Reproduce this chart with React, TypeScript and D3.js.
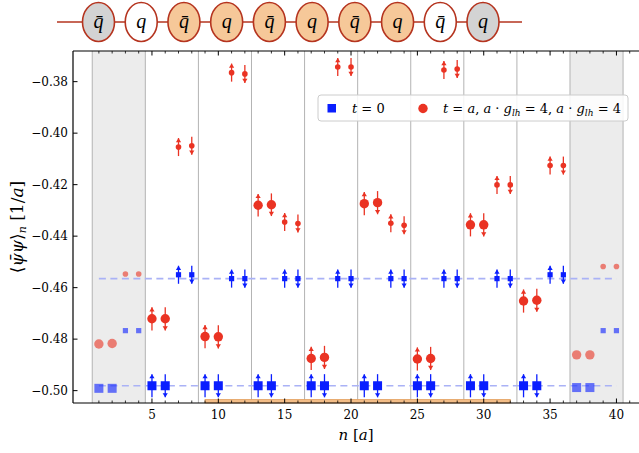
import React from 'react';
import * as d3 from 'd3';

const W = 639;
const H = 453;

// site index n
const sites = [1, 2, 3, 4, 5, 6, 7, 8, 9, 10, 11, 12, 13, 14, 15, 16, 17, 18, 19, 20,
  21, 22, 23, 24, 25, 26, 27, 28, 29, 30, 31, 32, 33, 34, 35, 36, 37, 38, 39, 40];

// <psibar psi>_n at t = 0
const blueT0 = [
  -0.4991, -0.4991, -0.4767, -0.4767,
  -0.4981, -0.4981, -0.4550, -0.4550,
  -0.4981, -0.4981, -0.4565, -0.4565,
  -0.4981, -0.4981, -0.4565, -0.4565,
  -0.4981, -0.4981, -0.4565, -0.4565,
  -0.4981, -0.4981, -0.4565, -0.4565,
  -0.4981, -0.4981, -0.4565, -0.4565,
  -0.4981, -0.4981, -0.4565, -0.4565,
  -0.4981, -0.4981, -0.4550, -0.4550,
  -0.4988, -0.4988, -0.4767, -0.4767,
];
const blueErr = [
  0, 0, 0, 0,
  0.0045, 0.0045, 0.0035, 0.0035,
  0.0045, 0.0045, 0.0035, 0.0035,
  0.0045, 0.0045, 0.0035, 0.0035,
  0.0045, 0.0045, 0.0035, 0.0035,
  0.0045, 0.0045, 0.0035, 0.0035,
  0.0045, 0.0045, 0.0035, 0.0035,
  0.0045, 0.0045, 0.0035, 0.0035,
  0.0045, 0.0045, 0.0035, 0.0035,
  0, 0, 0, 0,
];

// <psibar psi>_n at t = a
const redTa = [
  -0.4819, -0.4817, -0.4547, -0.4547,
  -0.4721, -0.4721, -0.4054, -0.4049,
  -0.4790, -0.4791, -0.3765, -0.3770,
  -0.4280, -0.4278, -0.4345, -0.4351,
  -0.4875, -0.4871, -0.3743, -0.3743,
  -0.4274, -0.4270, -0.4350, -0.4358,
  -0.4877, -0.4875, -0.3755, -0.3751,
  -0.4356, -0.4356, -0.4201, -0.4201,
  -0.4652, -0.4649, -0.4126, -0.4126,
  -0.4861, -0.4861, -0.4518, -0.4518,
];
const redErr = [
  0, 0, 0, 0,
  0.0045, 0.0045, 0.0035, 0.0035,
  0.0045, 0.0045, 0.0035, 0.0035,
  0.0044, 0.0044, 0.0035, 0.0035,
  0.0045, 0.0045, 0.0035, 0.0035,
  0.0045, 0.0045, 0.0035, 0.0035,
  0.0045, 0.0045, 0.0035, 0.0035,
  0.0045, 0.0045, 0.0035, 0.0035,
  0.0045, 0.0045, 0.0035, 0.0035,
  0, 0, 0, 0,
];

const xMajorTicks = [5, 10, 15, 20, 25, 30, 35, 40];
const xMinorTicks = [1, 2, 3, 4, 6, 7, 8, 9, 11, 12, 13, 14, 16, 17, 18, 19, 21, 22, 23, 24,
  26, 27, 28, 29, 31, 32, 33, 34, 36, 37, 38, 39, 41];
const yTicks = [-0.38, -0.40, -0.42, -0.44, -0.46, -0.48, -0.50];
const regionEdges = [0.5, 4.5, 8.5, 12.5, 16.5, 20.5, 24.5, 28.5, 32.5, 36.5, 40.5];
const shadedRegions = [[0.5, 4.5], [36.5, 40.5]];
const dashedLevels = [-0.4981, -0.4565];
const dashedSpan = [1, 40];
const orangeSpan = [9, 32];

const diagramLabels = ['q\u0304', 'q', 'q\u0304', 'q', 'q\u0304', 'q', 'q\u0304', 'q', 'q\u0304', 'q'];
const diagramKinds = ['gray', 'white', 'orange', 'orange', 'orange', 'orange', 'orange', 'orange', 'white', 'gray'];

const BLUE = '#0a1eff';
const RED = '#ea3323';
const FONT = '"DejaVu Serif", serif';

const M = { left: 73, right: 639, top: 51, bottom: 403 };

export default function App() {
  const x = d3.scaleLinear().domain([-0.95, 41.7]).range([M.left, M.right]);
  const y = d3.scaleLinear().domain([-0.5048, -0.3681]).range([M.bottom, M.top]);

  const diagX = d3.scalePoint<number>().domain(d3.range(diagramLabels.length)).range([98.5, 483]);
  const fillOf = (k: string) => (k === 'gray' ? '#d3d3d3' : k === 'orange' ? '#f6c899' : '#ffffff');

  const isLarge = (n: number) => (n - 1) % 4 < 2;
  const inGray = (n: number) => n <= 4 || n >= 37;

  const errBar = (n: number, v: number, e: number, color: string, key: string) => {
    if (!e) return null;
    const cx = x(n);
    const yTop = y(v + e);
    const yBot = y(v - e);
    const up = n % 2 === 1;
    const tri = up
      ? `M${cx},${yTop} L${cx - 2.6},${yTop + 4.2} L${cx + 2.6},${yTop + 4.2} Z`
      : `M${cx},${yBot} L${cx - 2.6},${yBot - 4.2} L${cx + 2.6},${yBot - 4.2} Z`;
    return (
      <g key={key}>
        <line x1={cx} x2={cx} y1={yTop} y2={yBot} stroke={color} strokeWidth={1.3} />
        <path d={tri} fill={color} />
      </g>
    );
  };

  const mathItalic = { fontStyle: 'italic' as const };

  return (
    <svg width={W} height={H} style={{ position: 'absolute', left: 0, top: 0, background: '#fff' }}
      fontFamily={FONT}>
      {/* chain diagram */}
      <line x1={57} x2={522} y1={22} y2={22} stroke="#b5341f" strokeWidth={1.5} />
      {diagramLabels.map((lab, i) => (
        <g key={'d' + i}>
          <ellipse cx={diagX(i)} cy={22} rx={16} ry={19.5} fill={fillOf(diagramKinds[i])}
            stroke="#b5341f" strokeWidth={1.6} />
          <text x={diagX(i)} y={28} textAnchor="middle" fontSize={20} fontStyle="italic"
            fontFamily='"Liberation Serif", serif'>{lab}</text>
        </g>
      ))}

      {/* shaded regions */}
      {shadedRegions.map(([a, b], i) => (
        <rect key={'s' + i} x={x(a)} y={M.top} width={x(b) - x(a)} height={M.bottom - M.top} fill="#ececec" />
      ))}
      {regionEdges.map((e) => (
        <line key={'e' + e} x1={x(e)} x2={x(e)} y1={M.top} y2={M.bottom} stroke="#b4b4b4" strokeWidth={1} />
      ))}

      {/* dashed reference lines */}
      {dashedLevels.map((lv) => (
        <line key={'l' + lv} x1={x(dashedSpan[0])} x2={x(dashedSpan[1])} y1={y(lv)} y2={y(lv)}
          stroke="#aab2f6" strokeWidth={1.7} strokeDasharray="7,4.5" />
      ))}

      {/* orange bar */}
      <rect x={x(orangeSpan[0])} y={M.bottom - 3.5} width={x(orangeSpan[1]) - x(orangeSpan[0])} height={3.5}
        fill="#f3bd87" stroke="#e4a05e" strokeWidth={0.8} />

      {/* blue t=0 */}
      {sites.map((n, i) => errBar(n, blueT0[i], blueErr[i], BLUE, 'be' + n))}
      {sites.map((n, i) => {
        const s = isLarge(n) ? 9 : 5.2;
        return (
          <rect key={'b' + n} x={x(n) - s / 2} y={y(blueT0[i]) - s / 2} width={s} height={s}
            fill={BLUE} opacity={inGray(n) ? 0.6 : 1} />
        );
      })}

      {/* red t=a */}
      {sites.map((n, i) => errBar(n, redTa[i], redErr[i], RED, 're' + n))}
      {sites.map((n, i) => {
        const r = isLarge(n) ? 4.7 : 2.8;
        return (
          <circle key={'r' + n} cx={x(n)} cy={y(redTa[i])} r={r} fill={RED} opacity={inGray(n) ? 0.6 : 1} />
        );
      })}

      {/* axes spines */}
      <line x1={M.left} x2={M.right} y1={M.bottom} y2={M.bottom} stroke="#000" strokeWidth={1.2} />
      <line x1={M.left} x2={M.right} y1={M.top} y2={M.top} stroke="#000" strokeWidth={1.2} />
      <line x1={M.left} x2={M.left} y1={M.top} y2={M.bottom} stroke="#000" strokeWidth={1.2} />

      {/* x ticks */}
      {xMajorTicks.map((t) => (
        <g key={'xt' + t}>
          <line x1={x(t)} x2={x(t)} y1={M.bottom} y2={M.bottom - 4.5} stroke="#000" strokeWidth={1} />
          <line x1={x(t)} x2={x(t)} y1={M.top} y2={M.top + 4.5} stroke="#000" strokeWidth={1} />
          <text x={x(t)} y={419} textAnchor="middle" fontSize={12}>{t}</text>
        </g>
      ))}
      {xMinorTicks.map((t) => (
        <g key={'xm' + t}>
          <line x1={x(t)} x2={x(t)} y1={M.bottom} y2={M.bottom - 2.5} stroke="#000" strokeWidth={0.8} />
          <line x1={x(t)} x2={x(t)} y1={M.top} y2={M.top + 2.5} stroke="#000" strokeWidth={0.8} />
        </g>
      ))}

      {/* y ticks */}
      {yTicks.map((t) => (
        <g key={'yt' + t}>
          <line x1={M.left} x2={M.left + 4.5} y1={y(t)} y2={y(t)} stroke="#000" strokeWidth={1} />
          <text x={M.left - 5} y={y(t) + 4.3} textAnchor="end" fontSize={12}>
            {'\u2212' + Math.abs(t).toFixed(2)}
          </text>
        </g>
      ))}

      {/* axis labels */}
      <text x={(M.left + M.right) / 2} y={440} textAnchor="middle" fontSize={15}>
        <tspan style={mathItalic}>n</tspan>
        <tspan> [</tspan>
        <tspan style={mathItalic}>a</tspan>
        <tspan>]</tspan>
      </text>
      <text transform={`translate(23,${(M.top + M.bottom) / 2}) rotate(-90)`} textAnchor="middle" fontSize={17}>
        <tspan>{'\u27E8'}</tspan>
        <tspan style={mathItalic}>{'\u03C8\u0304\u03C8'}</tspan>
        <tspan>{'\u27E9'}</tspan>
        <tspan style={mathItalic} fontSize={11} dy={3}>n</tspan>
        <tspan dy={-3}> [1/</tspan>
        <tspan style={mathItalic}>a</tspan>
        <tspan>]</tspan>
      </text>

      {/* legend */}
      <rect x={318} y={95} width={310} height={26} rx={3} fill="#fff" fillOpacity={0.85} stroke="#cccccc" strokeWidth={1} />
      <rect x={327.5} y={104} width={8.5} height={8.5} fill={BLUE} />
      <text x={352} y={113} fontSize={13}>
        <tspan style={mathItalic}>t</tspan>
        <tspan> = 0</tspan>
      </text>
      <circle cx={423} cy={108.5} r={4.7} fill={RED} />
      <text x={443} y={113} fontSize={13}>
        <tspan style={mathItalic}>t</tspan>
        <tspan> = </tspan>
        <tspan style={mathItalic}>a</tspan>
        <tspan>, </tspan>
        <tspan style={mathItalic}>a</tspan>
        <tspan> · </tspan>
        <tspan style={mathItalic}>g</tspan>
        <tspan style={mathItalic} fontSize={9} dy={3}>lh</tspan>
        <tspan dy={-3}> = 4, </tspan>
        <tspan style={mathItalic}>a</tspan>
        <tspan> · </tspan>
        <tspan style={mathItalic}>g</tspan>
        <tspan style={mathItalic} fontSize={9} dy={3}>lh</tspan>
        <tspan dy={-3}> = 4</tspan>
      </text>
    </svg>
  );
}
